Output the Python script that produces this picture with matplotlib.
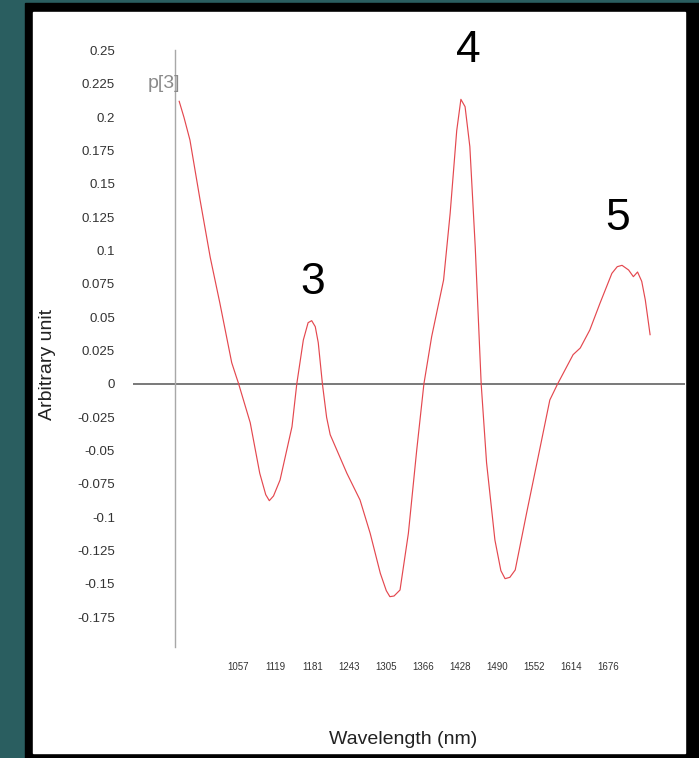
# Second-derivative style NIR spectrum, loading p[3]

import numpy as np
import matplotlib.pyplot as plt
from matplotlib.patches import Rectangle

plt.rcParams['font.family'] = ['Liberation Sans', 'DejaVu Sans']

# spectrum read as (wavelength, value) pairs
wavelength = [958, 966, 976, 993, 1010, 1026, 1046, 1054, 1057, 1077, 1093, 1103, 1109, 1116, 1127,
              1147, 1155, 1166, 1174, 1180, 1186, 1191, 1198, 1205, 1211, 1239, 1261, 1278,
              1295, 1305, 1311, 1318, 1328, 1342, 1356, 1368, 1381, 1401, 1412, 1423, 1430, 1437,
              1445, 1454, 1464, 1473, 1487, 1497, 1504, 1512, 1521, 1540, 1563, 1579, 1592, 1618,
              1630, 1646, 1663, 1683, 1692, 1700, 1711, 1719, 1726, 1733, 1739, 1747]
p3 = [0.212, 0.2, 0.183, 0.138, 0.095, 0.061, 0.016, 0.005, 0.001, -0.029, -0.067, -0.083, -0.0875, -0.084, -0.072,
      -0.032, 0.0, 0.033, 0.046, 0.0475, 0.043, 0.031, 0.0, -0.025, -0.038, -0.067, -0.087, -0.112,
      -0.142, -0.155, -0.1595, -0.159, -0.1545, -0.112, -0.0495, 0.0, 0.0355, 0.078, 0.128, 0.19, 0.2135, 0.208,
      0.178, 0.103, 0.0, -0.059, -0.117, -0.14, -0.146, -0.145, -0.1395, -0.097, -0.047, -0.012, 0.0, 0.022,
      0.027, 0.0405, 0.0605, 0.083, 0.088, 0.089, 0.0855, 0.0805, 0.084, 0.077, 0.063, 0.037]

xtick_vals = [1057, 1119, 1181, 1243, 1305, 1366, 1428, 1490, 1552, 1614, 1676]
ytick_vals = [0.25, 0.225, 0.2, 0.175, 0.15, 0.125, 0.1, 0.075, 0.05, 0.025, 0,
              -0.025, -0.05, -0.075, -0.1, -0.125, -0.15, -0.175]

# peak labels: (text, wavelength, value)
peaks = [('3', 1182, 0.076), ('4', 1442, 0.2505), ('5', 1693, 0.124)]

W, H = 699, 758
fig = plt.figure(figsize=(W / 100, H / 100), dpi=100, facecolor='#2a5e60')

# black frame and white page, kept behind the axes
fig.patches.append(Rectangle((25 / W, 0), (W - 25) / W, (H - 3) / H,
                             transform=fig.transFigure, color='black', zorder=-10))
fig.patches.append(Rectangle((33 / W, 5 / H), 652 / W, 741 / H,
                             transform=fig.transFigure, color='white', zorder=-9))

ax = fig.add_axes([133 / W, 108 / H, 552 / W, 610 / H])
ax.set_facecolor('none')
ax.set_xlim(880.6, 1805.5)
ax.set_ylim(-0.1995, 0.258)
for s in ax.spines.values():
    s.set_visible(False)

ax.axhline(0, color='#6e6e6e', lw=1.3, zorder=1)
ax.plot([951, 951], [0.2505, -0.197], color='#a8a8a8', lw=1, zorder=1)
ax.plot(wavelength, p3, color='#e4484f', lw=0.85, zorder=2)

ax.set_xticks(xtick_vals)
ax.set_xticklabels([str(v) for v in xtick_vals], fontsize=7, color='#333333')
ax.set_yticks(ytick_vals)
ax.set_yticklabels([f'{v:g}' for v in ytick_vals], fontsize=9.5, color='#333333')
ax.tick_params(axis='x', length=0, pad=9)
ax.tick_params(axis='y', length=0, pad=13)

ax.text(959, 0.225, 'p[3]', ha='right', va='center', fontsize=14, color='#8a8a8a')
for lab, x, y in peaks:
    ax.text(x, y, lab, ha='center', va='center', fontsize=32, color='black')

fig.text(402.7 / W, 1 - 740 / H, 'Wavelength (nm)', ha='center', va='center',
         fontsize=14, color='#222222')
fig.text(47 / W, 1 - 364 / H, 'Arbitrary unit', ha='center', va='center',
         rotation=90, fontsize=14, color='#222222')

fig.savefig('out.png', dpi=100, facecolor=fig.get_facecolor())
